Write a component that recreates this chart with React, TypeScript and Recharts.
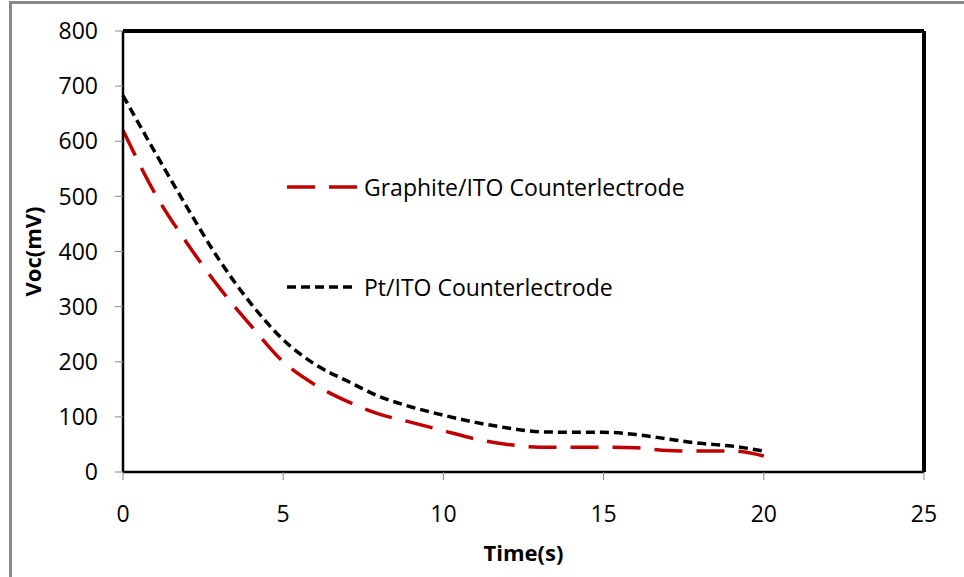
import React from "react"
import {
  LineChart,
  Line,
  XAxis,
  YAxis,
  ReferenceLine,
  Label,
} from "recharts"

const timeSec = [0, 1, 2, 3, 4, 5, 6, 7, 8, 9, 10, 11, 12, 13, 14, 15, 16, 17, 18, 19, 20]
const graphiteVoc = [620, 505, 415, 335, 265, 200, 158, 128, 105, 90, 75, 60, 50, 45, 45, 45, 44, 39, 38, 38, 29]
const ptVoc = [683, 580, 480, 385, 305, 240, 195, 165, 137, 118, 103, 90, 80, 73, 72, 72, 68, 60, 52, 47, 38]
const xTicks = [0, 5, 10, 15, 20, 25]
const yTicks = [0, 100, 200, 300, 400, 500, 600, 700, 800]

const FONT = "'Open Sans', sans-serif"
const RED = "#C00000"

const series = [
  { key: "graphite", name: "Graphite/ITO Counterlectrode", color: RED, dash: "28 14" },
  { key: "pt", name: "Pt/ITO Counterlectrode", color: "#000", dash: "9 5" },
]

// legend sits inside the plot, so it's drawn as an overlay instead of <Legend>
function LegendBox() {
  return (
    <div style={{ position: "absolute", left: 285, top: 172, fontFamily: FONT, fontSize: 23, color: "#000" }}>
      {series.map((s, i) => (
        <div key={s.key} style={{ display: "flex", alignItems: "center", height: 30, marginBottom: i === 0 ? 70 : 0 }}>
          <svg width={74} height={10} style={{ marginRight: 5 }}>
            <line x1={2} y1={5} x2={72} y2={5} stroke={s.color} strokeWidth={3.5} strokeDasharray={s.dash} />
          </svg>
          <span>{s.name}</span>
        </div>
      ))}
    </div>
  )
}

export default function App() {
  const data = timeSec.map((t, i) => ({ t, graphite: graphiteVoc[i], pt: ptVoc[i] }))

  return (
    <div style={{ position: "absolute", left: 0, top: 0, width: 964, height: 577, background: "#fff", overflow: "hidden" }}>
      <div
        style={{
          position: "absolute",
          left: 9,
          top: 1,
          right: -10,
          bottom: -10,
          borderLeft: "3px solid #888",
          borderTop: "3px solid #888",
        }}
      />
      <div style={{ position: "absolute", left: 0, top: 0 }}>
        <LineChart width={964} height={577} data={data} margin={{ top: 31, right: 40, left: 0, bottom: 0 }}>
          <XAxis
            dataKey="t"
            type="number"
            domain={[0, 25]}
            ticks={xTicks}
            height={105}
            tickSize={8}
            tickMargin={26}
            tickLine={{ stroke: "#888" }}
            axisLine={{ stroke: "#000", strokeWidth: 2.5 }}
            tick={{ fill: "#000", fontSize: 23, fontFamily: FONT }}
          >
            <Label value="Time(s)" position="insideBottom" offset={16} style={{ fontFamily: FONT, fontSize: 22, fontWeight: 700, fill: "#000" }} />
          </XAxis>
          <YAxis
            type="number"
            domain={[0, 800]}
            ticks={yTicks}
            width={123}
            tickSize={8}
            tickMargin={17}
            tickLine={{ stroke: "#888" }}
            axisLine={{ stroke: "#000", strokeWidth: 2.5 }}
            tick={{ fill: "#000", fontSize: 23, fontFamily: FONT }}
          >
            <Label
              value="Voc(mV)"
              angle={-90}
              position="insideLeft"
              offset={33}
              style={{ fontFamily: FONT, fontSize: 22, fontWeight: 700, fill: "#000", textAnchor: "middle" }}
            />
          </YAxis>
          <ReferenceLine y={800} stroke="#000" strokeWidth={4} />
          <ReferenceLine x={25} stroke="#000" strokeWidth={4} />
          {series.map((s) => (
            <Line
              key={s.key}
              dataKey={s.key}
              name={s.name}
              type="monotone"
              stroke={s.color}
              strokeWidth={3.5}
              strokeDasharray={s.dash}
              dot={false}
              isAnimationActive={false}
            />
          ))}
        </LineChart>
      </div>
      <LegendBox />
    </div>
  )
}
